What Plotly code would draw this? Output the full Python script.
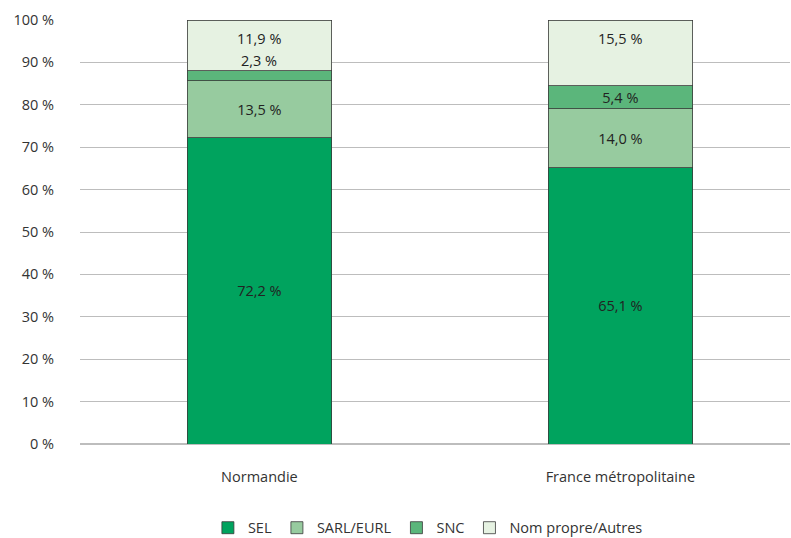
import plotly.graph_objects as go

# parts des formes juridiques (en %)
regions = ["Normandie", "France métropolitaine"]
series = ["SEL", "SARL/EURL", "SNC", "Nom propre/Autres"]
sel = [72.2, 65.1]
sarl = [13.5, 14.0]
snc = [2.3, 5.4]
autres = [11.9, 15.5]
y_ticks = [0, 10, 20, 30, 40, 50, 60, 70, 80, 90, 100]

colors = ["#00A35E", "#97CB9F", "#5BB67B", "#E6F2E2"]
values = [sel, sarl, snc, autres]

def fr(v):
    return f"{v:.1f}".replace(".", ",") + " %"

fig = go.Figure()
for k, (name, vals, col) in enumerate(zip(series, values, colors)):
    # petit segment SNC et segment du haut : étiquettes en annotation
    if k == len(series) - 1:
        labels = ["" for v in vals]
    else:
        labels = [fr(v) if v > 3 else "" for v in vals]
    fig.add_trace(go.Bar(
        x=regions, y=vals, name=name, marker_color=col,
        marker_line=dict(color="#3a3a3a", width=0.8),
        text=labels, textposition="inside", insidetextanchor="middle",
        constraintext="none", textangle=0,
        textfont=dict(color="#222", size=14.5), width=0.40,
    ))

for i, r in enumerate(regions):
    total = sel[i] + sarl[i] + snc[i] + autres[i]
    fig.add_annotation(x=r, y=total, text=fr(autres[i]), showarrow=False,
                       yanchor="top", yshift=-7, font=dict(color="#222", size=14.5))
    if snc[i] <= 3:
        base = sel[i] + sarl[i] + snc[i]
        fig.add_annotation(x=r, y=base, text=fr(snc[i]), showarrow=False,
                           yanchor="bottom", yshift=-1,
                           font=dict(color="#222", size=14.5))

fig.update_layout(
    barmode="stack", width=791, height=538,
    margin=dict(l=80, r=1, t=20, b=94),
    plot_bgcolor="white", paper_bgcolor="white",
    font=dict(family="Open Sans, sans-serif", size=14.5, color="#333"),
    legend=dict(orientation="h", x=0.49, xanchor="center",
                yref="container", y=0.019, yanchor="middle",
                font=dict(size=14.5), traceorder="normal", itemwidth=30),
)
fig.update_xaxes(range=[-0.497, 1.47], showgrid=False, showline=False, automargin=False,
                 ticks="outside", ticklen=20, tickcolor="white")
fig.update_yaxes(range=[0, 100], tickvals=y_ticks, ticktext=[f"{t} %" for t in y_ticks],
                 showgrid=True, gridcolor="#bdbdbd", gridwidth=1, automargin=False,
                 zeroline=True, zerolinecolor="#bdbdbd",
                 ticks="outside", ticklen=22, tickcolor="white")

# la page a une marge de 8 px par défaut : on la retire
fig.write_html("out.html", config={"displayModeBar": False},
               post_script="document.body.style.margin='0';")
